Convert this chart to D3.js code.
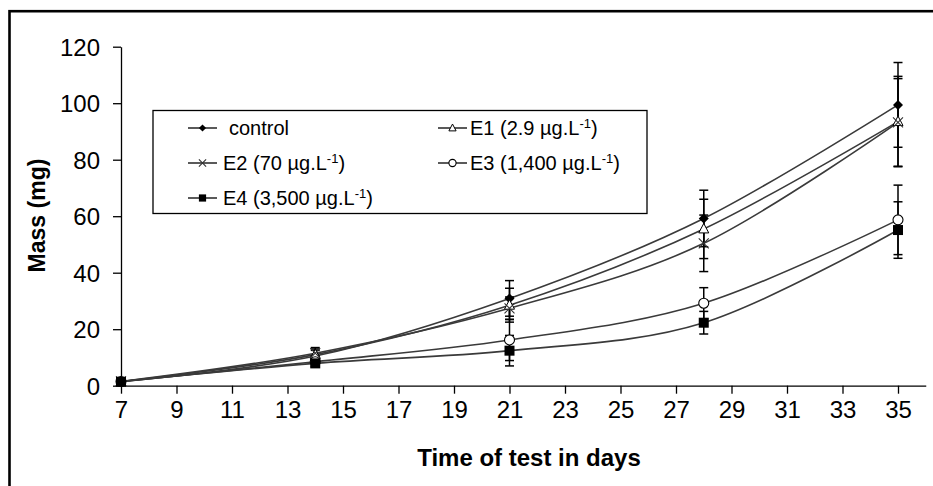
<!DOCTYPE html>
<html>
<head>
<meta charset="utf-8">
<script src="https://cdn.jsdelivr.net/npm/d3@7"></script>
<style>
  body { margin: 0; background: #fff; }
  #my_dataviz { width: 933px; height: 486px; }
  text { font-family: "Liberation Sans", Arial, sans-serif; fill: #000; }
</style>
</head>
<body>
<div id="my_dataviz"></div>
<script>
// data
const days = [7, 14, 21, 28, 35];
const xTicks = [7, 9, 11, 13, 15, 17, 19, 21, 23, 25, 27, 29, 31, 33, 35];
const yTicks = [0, 20, 40, 60, 80, 100, 120];

const controlMass = [1.5, 10.5, 30.9, 59.2, 99.4];
const controlErr = [0.3, 2, 6.3, 10, 15];
const e1Mass = [1.5, 11, 28.5, 55.5, 93.5];
const e1Err = [0.3, 2, 6, 10.5, 16];
const e2Mass = [1.5, 11.5, 27.4, 50.4, 93.2];
const e2Err = [0.3, 2, 4, 10, 15.5];
const e3Mass = [1.5, 8.5, 16.2, 29.2, 58.7];
const e3Err = [0.3, 1.5, 7.3, 5.5, 12.3];
const e4Mass = [1.4, 7.9, 12.4, 22.3, 55.1];
const e4Err = [0.3, 1.2, 5.4, 4, 10];

const seriesNames = ["control", "E1", "E2", "E3", "E4"];
const seriesDose = ["", "2.9", "70", "1,400", "3,500"];
const seriesMarker = ["diamond", "triangle", "cross", "circle", "square"];

const series = [controlMass, e1Mass, e2Mass, e3Mass, e4Mass].map((m, i) => ({
    name: seriesNames[i],
    dose: seriesDose[i],
    marker: seriesMarker[i],
    values: m.map((v, j) => ({ day: days[j], mass: v, err: [controlErr, e1Err, e2Err, e3Err, e4Err][i][j] }))
}));

const w = 933, h = 486;
const margin = { top: 46.7, right: 7, bottom: 100.3, left: 121 };

const svg = d3.select("#my_dataviz")
    .append("svg")
    .attr("width", w)
    .attr("height", h);

// outer frame (only top and left edges visible)
svg.append("rect")
    .attr("x", 9.5).attr("y", 11.2)
    .attr("width", 960).attr("height", 500)
    .attr("fill", "none")
    .attr("stroke", "#000")
    .attr("stroke-width", 2.6);

const x = d3.scaleLinear().domain([7, 36]).range([margin.left, w - margin.right - 0.25]);
const y = d3.scaleLinear().domain([0, 120]).range([h - margin.bottom, margin.top]);

// x axis
const xAxis = svg.append("g")
    .attr("transform", `translate(0, ${y(0)})`)
    .call(d3.axisBottom(x).tickValues(xTicks).tickSize(8).tickPadding(7).tickSizeOuter(0));
xAxis.select(".domain").attr("stroke", "#000").attr("stroke-width", 1.3);
xAxis.selectAll(".tick line").attr("stroke", "#000").attr("stroke-width", 1.3);
xAxis.selectAll(".tick text").style("font-size", "24px").attr("dy", "0.72em");

// y axis
const yAxis = svg.append("g")
    .attr("transform", `translate(${x(7)}, 0)`)
    .call(d3.axisLeft(y).tickValues(yTicks).tickSize(8).tickPadding(13).tickSizeOuter(0));
yAxis.select(".domain").attr("stroke", "#000").attr("stroke-width", 1.3);
yAxis.selectAll(".tick line").attr("stroke", "#000").attr("stroke-width", 1.3);
yAxis.selectAll(".tick text").style("font-size", "24px").attr("dy", "0.35em");

// axis titles
svg.append("text")
    .attr("x", 529).attr("y", 466)
    .attr("text-anchor", "middle")
    .style("font-size", "24px").style("font-weight", "bold")
    .text("Time of test in days");

svg.append("text")
    .attr("transform", "translate(45, 215.5) rotate(-90)")
    .attr("text-anchor", "middle")
    .style("font-size", "23px").style("font-weight", "bold")
    .text("Mass (mg)");

// smoothed lines like the spreadsheet
const line = d3.line()
    .x(d => x(d.day))
    .y(d => y(d.mass))
    .curve(d3.curveCardinal.tension(0));

svg.append("g").selectAll("path")
    .data(series)
    .join("path")
    .attr("d", d => line(d.values))
    .attr("fill", "none")
    .attr("stroke", "#3a3a3a")
    .attr("stroke-width", 1.6);

// error bars
const errG = svg.append("g");
series.forEach(s => {
    s.values.forEach(d => {
        const cx = x(d.day);
        const y0 = y(d.mass - d.err), y1 = y(d.mass + d.err);
        errG.append("line").attr("x1", cx).attr("x2", cx).attr("y1", y0).attr("y2", y1)
            .attr("stroke", "#000").attr("stroke-width", 1.5);
        [y0, y1].forEach(yy => {
            errG.append("line").attr("x1", cx - 4.5).attr("x2", cx + 4.5).attr("y1", yy).attr("y2", yy)
                .attr("stroke", "#000").attr("stroke-width", 1.5);
        });
    });
});

// draw one marker at cx, cy (r = half size)
function drawMarker(g, type, cx, cy, r = 5) {
    if (type === "diamond") {
        g.append("path")
            .attr("d", `M${cx},${cy - r}L${cx + r},${cy}L${cx},${cy + r}L${cx - r},${cy}Z`)
            .attr("fill", "#000");
    } else if (type === "triangle") {
        g.append("path")
            .attr("d", `M${cx},${cy - r * 1.1}L${cx + r},${cy + r * 0.8}L${cx - r},${cy + r * 0.8}Z`)
            .attr("fill", "#fff").attr("stroke", "#000").attr("stroke-width", 1);
    } else if (type === "cross") {
        g.append("path")
            .attr("d", `M${cx - r},${cy - r}L${cx + r},${cy + r}M${cx - r},${cy + r}L${cx + r},${cy - r}`)
            .attr("stroke", "#333").attr("stroke-width", 1.1);
    } else if (type === "circle") {
        g.append("circle").attr("cx", cx).attr("cy", cy).attr("r", r)
            .attr("fill", "#fff").attr("stroke", "#000").attr("stroke-width", 1.1);
    } else if (type === "square") {
        g.append("rect").attr("x", cx - r).attr("y", cy - r).attr("width", 2 * r).attr("height", 2 * r)
            .attr("fill", "#000");
    }
}

const markG = svg.append("g");
series.forEach(s => {
    s.values.forEach(d => drawMarker(markG, s.marker, x(d.day), y(d.mass)));
});

// legend
const legend = svg.append("g");
legend.append("rect")
    .attr("x", 153).attr("y", 110.5)
    .attr("width", 494).attr("height", 103)
    .attr("fill", "#fff").attr("stroke", "#000").attr("stroke-width", 1.3);

const legendPos = [
    { lx: 188, ly: 128, tx: 229 },
    { lx: 438, ly: 128, tx: 470 },
    { lx: 188, ly: 163, tx: 223 },
    { lx: 438, ly: 163, tx: 470 },
    { lx: 188, ly: 198, tx: 223 }
];

series.forEach((s, i) => {
    const p = legendPos[i];
    legend.append("line")
        .attr("x1", p.lx).attr("x2", p.lx + 29).attr("y1", p.ly).attr("y2", p.ly)
        .attr("stroke", "#000").attr("stroke-width", 1.3);
    drawMarker(legend, s.marker, p.lx + 14.5, p.ly, 3.6);
    const t = legend.append("text")
        .attr("x", p.tx).attr("y", p.ly + 7)
        .style("font-size", "20px");
    if (s.dose === "") {
        t.text(s.name);
    } else {
        t.append("tspan").text(`${s.name} (${s.dose} µg.L`);
        t.append("tspan").attr("dy", -7).style("font-size", "13px").text("-1");
        t.append("tspan").attr("dy", 7).text(")");
    }
});
</script>
</body>
</html>
